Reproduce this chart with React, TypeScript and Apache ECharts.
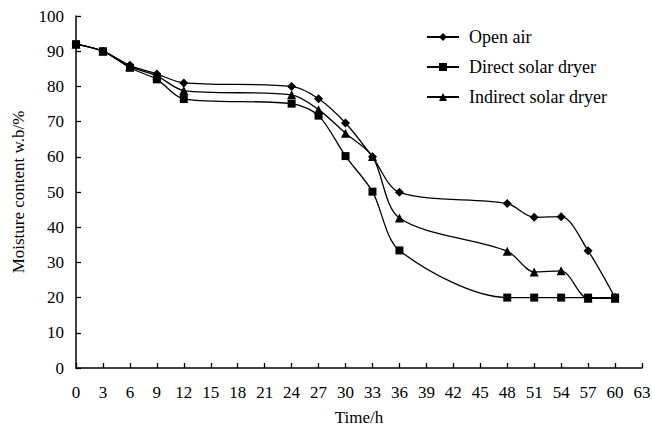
import React, { useEffect, useRef } from "react";
import * as echarts from "echarts";

const times = [0, 3, 6, 9, 12, 24, 27, 30, 33, 36, 48, 51, 54, 57, 60];
const openAir = [92, 90, 86, 83.5, 81, 80, 76.5, 69.6, 60, 49.9, 46.7, 42.8, 43, 33.3, 20];
const directSolar = [92, 90, 85.3, 82, 76.4, 75.1, 71.7, 60.2, 50.1, 33.4, 20, 20, 20, 20, 20];
const indirectSolar = [92, 90, 85.6, 83, 78.8, 77.6, 73.4, 66.7, 60.1, 42.6, 33.2, 27.3, 27.6, 19.8, 19.8];
const seriesNames = ["Open air", "Direct solar dryer", "Indirect solar dryer"];
const xTitle = "Time/h";
const yTitle = "Moisture content w.b/%";

const font = "Liberation Serif";

export default function App() {
  const ref = useRef<HTMLDivElement>(null);
  useEffect(() => {
    if (!ref.current) return;
    const chart = echarts.init(ref.current, null, { renderer: "svg" });
    const mk = (name: string, vals: number[], symbol: string, size: number) => ({
      name,
      type: "line",
      data: times.map((t, i) => [t, vals[i]]),
      smooth: 0.3,
      symbol,
      symbolSize: size,
      lineStyle: { color: "#000", width: 1.3 },
      itemStyle: { color: "#000" },
    });
    const txt = { fontFamily: font, fontSize: 17, color: "#000", fontWeight: "normal" };
    chart.setOption({
      animation: false,
      backgroundColor: "#fff",
      textStyle: { fontFamily: font },
      grid: { left: 76, top: 16, right: 10, bottom: 64, containLabel: false, outerBoundsMode: "none" },
      legend: {
        orient: "vertical",
        left: 421,
        top: 23,
        padding: 5,
        itemWidth: 32,
        itemHeight: 10,
        itemGap: 12,
        textStyle: { ...txt, fontSize: 18, lineHeight: 18, padding: [0, 0, 0, 5] },
        data: seriesNames,
      },
      xAxis: {
        type: "value",
        min: 0,
        max: 63,
        interval: 3,
        name: xTitle,
        nameLocation: "middle",
        nameGap: 41,
        nameTextStyle: txt,
        axisLine: { lineStyle: { color: "#000", width: 1.5 } },
        axisTick: { inside: true, length: 5, lineStyle: { color: "#000", width: 1.3 } },
        axisLabel: { ...txt, margin: 16 },
        splitLine: { show: false },
      },
      yAxis: {
        type: "value",
        min: 0,
        max: 100,
        interval: 10,
        name: yTitle,
        nameLocation: "middle",
        nameGap: 49,
        nameTextStyle: txt,
        axisLine: { show: true, lineStyle: { color: "#000", width: 1.5 } },
        axisTick: { show: true, inside: true, length: 5, lineStyle: { color: "#000", width: 1.3 } },
        axisLabel: { ...txt, margin: 12 },
        splitLine: { show: false },
      },
      series: [
        mk(seriesNames[0], openAir, "diamond", 9),
        mk(seriesNames[1], directSolar, "rect", 8),
        mk(seriesNames[2], indirectSolar, "triangle", 9),
      ],
    });
    return () => chart.dispose();
  }, []);
  return <div ref={ref} style={{ width: 652, height: 432, position: "absolute", left: 0, top: 0 }} />;
}
